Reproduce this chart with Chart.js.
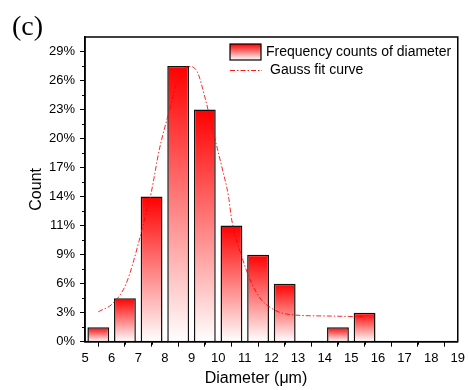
<!DOCTYPE html>
<html>
<head>
<meta charset="utf-8">
<script src="https://cdn.jsdelivr.net/npm/chart.js@4/dist/chart.umd.min.js"></script>
<style>
  html, body { margin: 0; padding: 0; background: #fff; }
  #wrap { width: 469px; height: 390px; position: relative; }
</style>
</head>
<body>
<div id="wrap"><canvas id="chartDiametro"></canvas></div>
<script>
// bins (centres, um) and share of counts (%)
const binCenters = [5.5, 6.5, 7.5, 8.5, 9.5, 10.5, 11.5, 12.5, 14.5, 15.5];
const frequency = [1.43, 4.29, 14.29, 27.14, 22.86, 11.43, 8.57, 5.71, 1.43, 2.86];

// gauss fit curve
const gaussX = [5.5, 6.05, 6.55, 7.04, 7.35, 7.48, 7.79, 8.1, 8.53, 8.9, 9.21, 9.52, 9.83, 10.14, 10.39, 10.51, 10.89, 11.26, 11.63, 11.75, 12.25, 12.87, 14.1, 15.47];
const gaussY = [2.95, 3.78, 5.75, 10.0, 13.3, 14.6, 18.9, 22.1, 26.1, 27.1, 26.6, 23.9, 20.5, 17.2, 14.3, 12.0, 8.36, 5.75, 4.1, 3.78, 2.95, 2.63, 2.53, 2.46];

// y ticks: one count out of 35
const yStep = 100 / 35;
const yTickLabels = ['0%', '3%', '6%', '9%', '11%', '14%', '17%', '20%', '23%', '26%', '29%'];
const xTickValues = [5, 6, 7, 8, 9, 10, 11, 12, 13, 14, 15, 16, 17, 18, 19];

const legendLabels = ['Frequency counts of diameter', 'Gauss fit curve'];

const FONT = "'Liberation Sans', Arial, sans-serif";

function gradienteBarra(c, top, bottom) {
    const g = c.createLinearGradient(0, top, 0, bottom);
    g.addColorStop(0, '#ff0000');
    g.addColorStop(1, '#ffffff');
    return g;
}

// marco, ticks menores, leyenda y textos
const extras = {
    id: 'extras',
    afterDraw(chart) {
        const c = chart.ctx;
        const a = chart.chartArea;
        const sx = chart.scales.x, sy = chart.scales.y;
        c.save();
        // minor ticks
        c.strokeStyle = '#000';
        c.lineWidth = 1;
        c.beginPath();
        for (let i = 0; i < yTickLabels.length - 1; i++) {
            const py = Math.round(sy.getPixelForValue((i + 0.5) * yStep)) + 0.5;
            c.moveTo(a.left - 3, py); c.lineTo(a.left, py);
        }
        for (let i = 0; i < xTickValues.length - 1; i++) {
            const px = Math.round(sx.getPixelForValue(xTickValues[i] + 0.5)) + 0.5;
            c.moveTo(px, a.bottom); c.lineTo(px, a.bottom + 3);
        }
        c.stroke();
        // frame
        c.lineWidth = 1.5;
        c.strokeRect(a.left, a.top, a.right - a.left, a.bottom - a.top);

        // legend
        c.fillStyle = gradienteBarra(c, 44, 60);
        c.fillRect(230, 44, 31, 16);
        c.lineWidth = 1.2;
        c.strokeStyle = '#000';
        c.strokeRect(230, 44, 31, 16);
        c.strokeStyle = 'rgba(255,0,0,0.9)';
        c.lineWidth = 1;
        c.setLineDash([5, 2, 1.5, 2]);
        c.beginPath();
        c.moveTo(230, 70.5); c.lineTo(262, 70.5);
        c.stroke();
        c.setLineDash([]);
        c.fillStyle = '#000';
        c.font = '14px ' + FONT;
        c.textBaseline = 'middle';
        c.textAlign = 'left';
        c.fillText(legendLabels[0], 266, 52.5);
        c.fillText(legendLabels[1], 270, 70.5);

        // x title
        c.font = '16px ' + FONT;
        c.textAlign = 'center';
        c.fillText('Diameter (\u03bcm)', 256, 379);

        // panel label
        c.font = "28px 'Liberation Serif', 'Times New Roman', serif";
        c.textAlign = 'left';
        c.textBaseline = 'alphabetic';
        c.fillText('(c)', 12, 35);
        c.restore();
    }
};

new Chart(document.getElementById('chartDiametro'), {
    type: 'bar',
    data: {
        datasets: [
            {
                type: 'line',
                label: legendLabels[1],
                data: gaussX.map((x, i) => ({ x: x, y: gaussY[i] })),
                borderColor: 'rgba(255,0,0,0.85)',
                borderWidth: 1,
                borderDash: [5, 2, 1.5, 2],
                pointRadius: 0,
                fill: false,
                cubicInterpolationMode: 'monotone',
                order: 0
            },
            {
                label: legendLabels[0],
                data: binCenters.map((x, i) => ({ x: x, y: frequency[i] })),
                backgroundColor: (ctx) => {
                    const chart = ctx.chart;
                    if (!chart.chartArea || !ctx.raw) return '#ff6060';
                    const sy = chart.scales.y;
                    return gradienteBarra(chart.ctx, sy.getPixelForValue(ctx.raw.y), sy.getPixelForValue(0));
                },
                borderColor: '#111',
                borderWidth: 1.5,
                barPercentage: 0.82,
                categoryPercentage: 1,
                order: 1
            }
        ]
    },
    options: {
        responsive: true,
        maintainAspectRatio: false,
        animation: false,
        layout: { padding: { top: 37, right: 7, bottom: 0, left: 0 } },
        plugins: {
            legend: { display: false },
            tooltip: { enabled: false }
        },
        scales: {
            x: {
                type: 'linear',
                min: 5,
                max: 19,
                offset: false,
                afterBuildTicks: (s) => { s.ticks = xTickValues.map(v => ({ value: v })); },
                afterFit: (s) => { s.height = 48.3; },
                ticks: {
                    color: '#000',
                    font: { family: FONT, size: 13 },
                    padding: 4,
                    maxRotation: 0,
                    autoSkip: false,
                    callback: (v) => String(v)
                },
                grid: { drawOnChartArea: false, tickLength: 5, color: '#000', tickWidth: 1 },
                border: { color: '#000', width: 1.5 }
            },
            y: {
                min: 0,
                max: 30,
                afterBuildTicks: (s) => { s.ticks = yTickLabels.map((t, i) => ({ value: i * yStep })); },
                afterFit: (s) => { s.width = 85; },
                ticks: {
                    color: '#000',
                    font: { family: FONT, size: 13 },
                    padding: 5,
                    autoSkip: false,
                    callback: (v, i) => yTickLabels[i]
                },
                title: {
                    display: true,
                    text: 'Count',
                    color: '#000',
                    font: { family: FONT, size: 16 },
                    padding: { top: 27, bottom: 0 }
                },
                grid: { drawOnChartArea: false, tickLength: 5, color: '#000', tickWidth: 1 },
                border: { color: '#000', width: 1.5 }
            }
        }
    },
    plugins: [extras]
});
</script>
</body>
</html>
